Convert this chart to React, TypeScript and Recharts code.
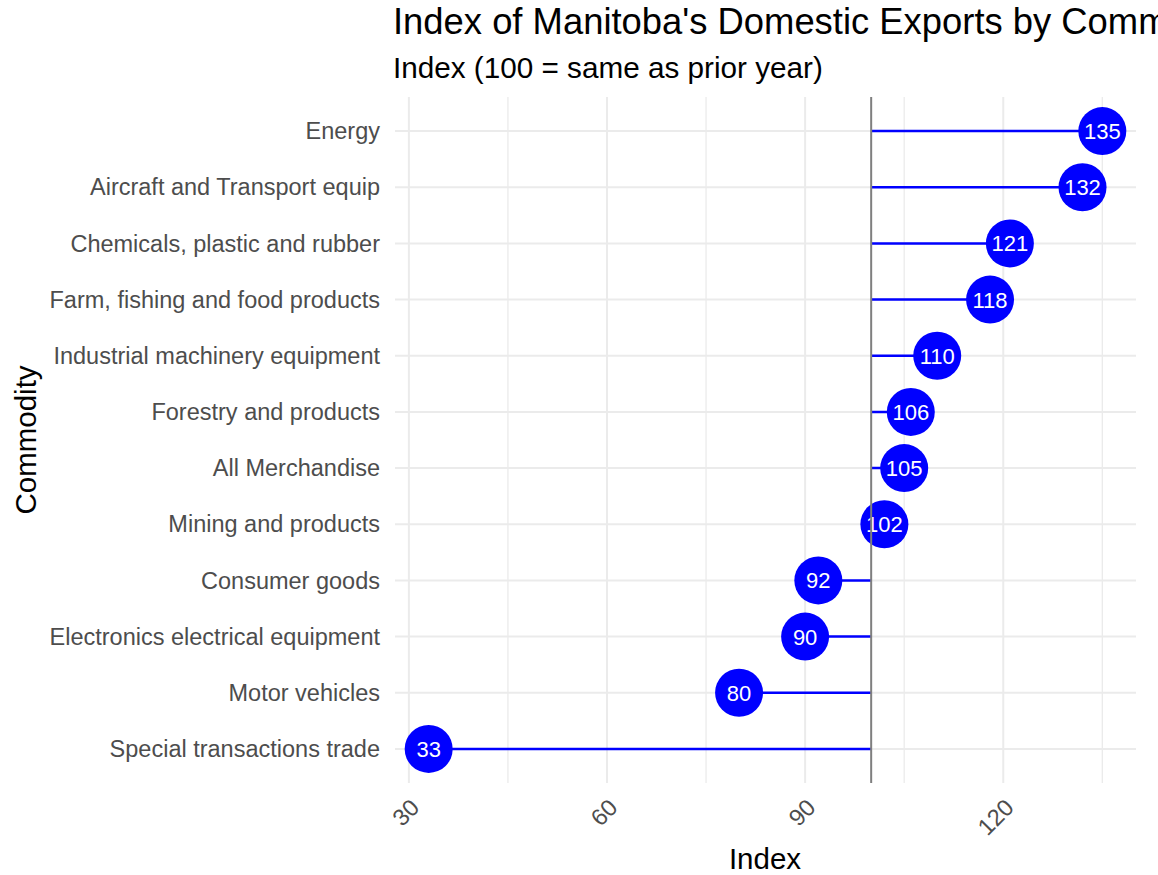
import React from "react";
import {
	Bar,
	CartesianGrid,
	ComposedChart,
	ReferenceLine,
	XAxis,
	YAxis,
} from "recharts";

// commodities, top to bottom
const commodities = [
	"Energy",
	"Aircraft and Transport equip",
	"Chemicals, plastic and rubber",
	"Farm, fishing and food products",
	"Industrial machinery equipment",
	"Forestry and products",
	"All Merchandise",
	"Mining and products",
	"Consumer goods",
	"Electronics electrical equipment",
	"Motor vehicles",
	"Special transactions trade",
];

const indexValues = [135, 132, 121, 118, 110, 106, 105, 102, 92, 90, 80, 33];

const xTicks = [30, 60, 90, 120];
const minorGrid = [45, 75, 105, 135];
const xDomain = [27.9, 140.1];
const baseline = 100;

const data = commodities.map((name, i) => ({
	name,
	value: indexValues[i],
	range: [baseline, indexValues[i]],
}));

const FONT = '"Liberation Sans", Arial, sans-serif';

const Lollipop = (props: any) => {
	const { x, y, width, height, payload } = props;
	const cy = y + height / 2;
	const left = Math.min(x, x + width);
	const right = Math.max(x, x + width);
	const cx = payload.value >= baseline ? right : left;
	return (
		<g>
			<line x1={left} x2={right} y1={cy} y2={cy} stroke="#0000ff" strokeWidth={2.5} />
			<circle cx={cx} cy={cy} r={24} fill="#0000ff" />
			<text
				x={cx}
				y={cy}
				dy="0.36em"
				textAnchor="middle"
				fill="#ffffff"
				fontSize={22}
				fontFamily={FONT}
			>
				{payload.value}
			</text>
		</g>
	);
};

const YTick = ({ x, y, payload }: any) => (
	<text x={x} y={y} dy="0.35em" textAnchor="end" fill="#4d4d4d" fontSize={23.5} fontFamily={FONT}>
		{payload.value}
	</text>
);

const XTick = ({ x, y, payload }: any) => (
	<text
		x={x}
		y={y}
		dy="0.72em"
		textAnchor="end"
		transform={`rotate(-45 ${x} ${y})`}
		fill="#4d4d4d"
		fontSize={23.5}
		fontFamily={FONT}
	>
		{payload.value}
	</text>
);

export default function App() {
	return (
		<div
			style={{
				position: "absolute",
				left: 0,
				top: 0,
				width: 1158,
				height: 875,
				background: "#ffffff",
			}}
		>
			<ComposedChart
				width={1158}
				height={875}
				data={data}
				layout="vertical"
				margin={{ top: 97, right: 22, bottom: 0, left: 0 }}
			>
				<CartesianGrid
					xAxisId="minor"
					horizontal={false}
					vertical
					syncWithTicks
					stroke="#ebebeb"
					strokeWidth={1.3}
				/>
				<CartesianGrid
					horizontal
					vertical
					syncWithTicks
					stroke="#ebebeb"
					strokeWidth={2}
				/>
				<XAxis
					type="number"
					domain={xDomain}
					ticks={xTicks}
					allowDataOverflow
					axisLine={false}
					tickLine={false}
					tickSize={0}
					tickMargin={14}
					height={92}
					tick={<XTick />}
				/>
				<XAxis
					xAxisId="minor"
					type="number"
					domain={xDomain}
					ticks={minorGrid}
					allowDataOverflow
					hide
				/>
				<YAxis
					type="category"
					dataKey="name"
					width={395}
					axisLine={false}
					tickLine={false}
					tickSize={0}
					tickMargin={15}
					interval={0}
					padding={{ top: 6, bottom: 6 }}
					tick={<YTick />}
				/>
				<Bar dataKey="range" shape={<Lollipop />} isAnimationActive={false} />
				<ReferenceLine x={baseline} stroke="#7f7f7f" strokeWidth={2} />
			</ComposedChart>
			<svg
				width={1158}
				height={875}
				style={{ position: "absolute", left: 0, top: 0, pointerEvents: "none" }}
			>
				<text x={393} y={34} fontSize={36.4} fontFamily={FONT} fill="#000000">
					Index of Manitoba's Domestic Exports by Commodity
				</text>
				<text x={393} y={78} fontSize={29.7} fontFamily={FONT} fill="#000000">
					Index (100 = same as prior year)
				</text>
				<text x={765} y={869} fontSize={29.5} fontFamily={FONT} fill="#000000" textAnchor="middle">
					Index
				</text>
				<text
					x={36}
					y={440}
					fontSize={29.5}
					fontFamily={FONT}
					fill="#000000"
					textAnchor="middle"
					transform="rotate(-90 36 440)"
				>
					Commodity
				</text>
			</svg>
		</div>
	);
}
